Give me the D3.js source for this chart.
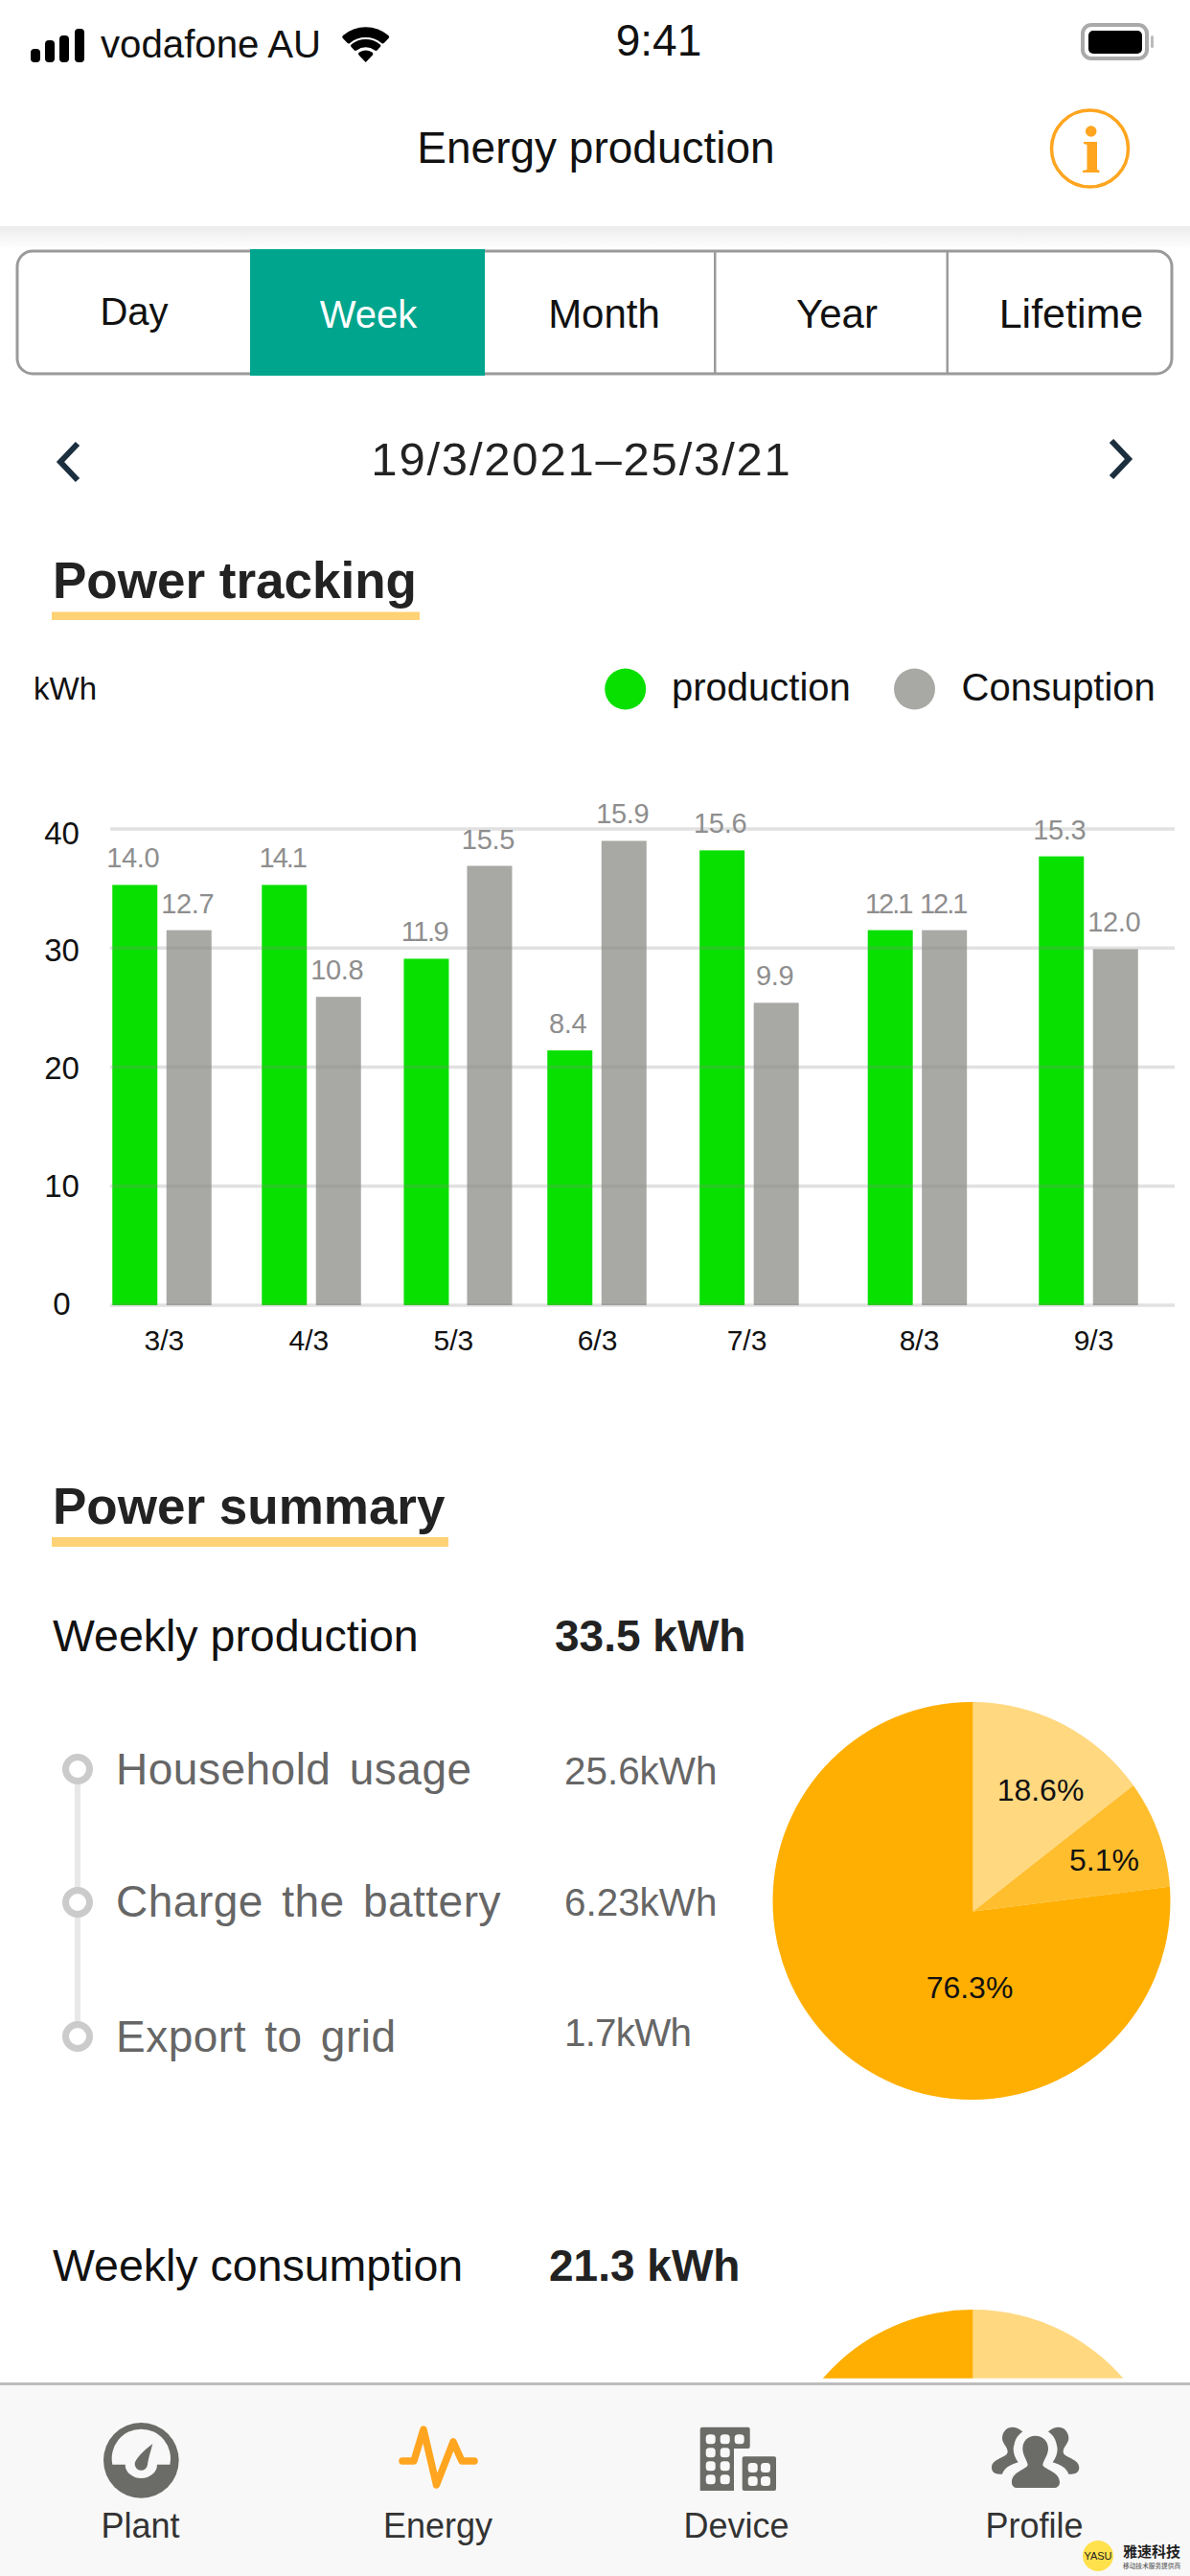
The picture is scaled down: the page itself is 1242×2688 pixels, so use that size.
<!DOCTYPE html>
<html><head><meta charset="utf-8">
<script src="https://cdn.jsdelivr.net/npm/d3@7/dist/d3.min.js"></script>
<style>html,body{margin:0;padding:0;background:#fff}svg{display:block}text{font-family:"Liberation Sans",Arial,sans-serif}</style>
</head><body><div id="c"></div>
<script>
// ---------- data ----------
const days = ["3/3","4/3","5/3","6/3","7/3","8/3","9/3"];
const productionBars = [35.3,35.3,29.1,21.4,38.2,31.5,37.7];
const consumptionBars = [31.5,25.9,36.9,39.0,25.4,31.5,29.9];
const productionLabels = ["14.0","14.1","11.9","8.4","15.6","12.1","15.3"];
const consumptionLabels = ["12.7","10.8","15.5","15.9","9.9","12.1","12.0"];
const yTicks = [0,10,20,30,40];
const seriesNames = ["production","Consuption"];
const tabs = ["Day","Week","Month","Year","Lifetime"];
const sliceNames = ["18.6%","5.1%","76.3%"];
const sliceShares = [14.4,8.6,77.0];
const consumptionShares = [30,70];
const summaryNames = ["Household usage","Charge the battery","Export to grid"];
const summaryValues = ["25.6kWh","6.23kWh","1.7kWh"];
const navNames = ["Plant","Energy","Device","Profile"];

// ---------- layout (irregular day spacing seen in the picture) ----------
const groupSlots = [0,0.968,1.917,2.817,3.803,4.892,6];
const tickSlots = [0.012,0.949,1.886,2.817,3.785,4.902,6.031];
const gapUnits = [1,1,2,1,1,1,1];
const C = {green:"#08E000",grey:"#A8A9A5",main:"#FFAF02",mid:"#FFBE2E",light:"#FFD880",teal:"#00A58D",under:"#FFD276",orange:"#FFA51F",icon:"#6B6B67",nav:"#F8F8F8"};

const svg = d3.select("#c").append("svg").attr("width",1242).attr("height",2688).attr("viewBox","0 0 1242 2688");
const defs = svg.append("defs");
const T = (s,x,y,size,o={}) => {
  const t = svg.append("text").attr("x",x).attr("y",y).attr("font-size",size)
    .attr("fill",o.fill||"#111").attr("font-weight",o.bold?"bold":"normal").attr("text-anchor",o.anchor||"start")
    .attr("letter-spacing",o.ls||0).attr("word-spacing",o.ws||0).text(s);
  if(o.family) t.style("font-family",o.family);
  return t;
};
const R = (x,y,w,h,fill,o={}) => svg.append("rect").attr("x",x).attr("y",y).attr("width",w).attr("height",h).attr("fill",fill).attr("rx",o.rx||0);

// ---------- status bar ----------
[[32,51],[47,42],[62,37],[78,30]].forEach(b=>R(b[0],b[1],10,65-b[1],"#000",{rx:4}));
T("vodafone AU",105,60,40.2);
const wifi = d3.arc().cornerRadius(2);
[[36.7,26],[24,15.7],[12.3,0]].forEach(a=>svg.append("path").attr("transform","translate(381.7,65)").attr("fill","#000")
  .attr("d",wifi({innerRadius:a[1],outerRadius:a[0],startAngle:-0.76,endAngle:0.76})));
T("9:41",687.5,58,46,{anchor:"middle"});
R(1130,26,67,35,"#fff",{rx:9}).attr("stroke","#aaa").attr("stroke-width",4);
R(1136,32,56,24,"#000",{rx:5});
R(1201,37,3,13,"#bbb",{rx:1.5});

// ---------- header ----------
T("Energy production",622,170,46,{anchor:"middle"});
svg.append("circle").attr("cx",1137.5).attr("cy",155).attr("r",40).attr("fill","none").attr("stroke",C.orange).attr("stroke-width",3.5);
svg.append("circle").attr("cx",1138.7).attr("cy",137).attr("r",5.8).attr("fill",C.orange);
svg.append("path").attr("fill",C.orange).attr("d","M1131 148 L1145 148 L1145 177 L1147.5 178 L1147.5 180 L1130 180 L1130 178 L1134.5 177 L1134.5 151 L1131 150 Z");
const sh = defs.append("linearGradient").attr("id","sh").attr("x1",0).attr("x2",0).attr("y1",0).attr("y2",1);
sh.append("stop").attr("offset",0).attr("stop-color","#ececec");
sh.append("stop").attr("offset",1).attr("stop-color","#fff");
R(0,236,1242,24,"url(#sh)");

// ---------- tabs ----------
R(18,262,1205,128,"#fff",{rx:16}).attr("stroke","#9a9a9a").attr("stroke-width",3);
[746,988.5].forEach(x=>R(x-1,262,2.5,128,"#9a9a9a"));
R(261,260,245,132,C.teal);
const tabX=[140,384.5,630.5,873.5,1118], tabY=[339,342,342,342,342], tabSize=[40,40,42,42,43];
tabs.forEach((t,i)=>T(t,tabX[i],tabY[i],tabSize[i],{anchor:"middle",fill:i==1?"#fff":"#111"}));

// ---------- date row ----------
T("19/3/2021–25/3/21",607,496,49,{anchor:"middle",ls:1.8,fill:"#222"});
const chev=d3.line();
svg.append("path").attr("d",chev([[81,463],[63,482],[81,501]])).attr("fill","none").attr("stroke","#1B2F3F").attr("stroke-width",6);
svg.append("path").attr("d",chev([[1160,460],[1178,479],[1160,498]])).attr("fill","none").attr("stroke","#1B2F3F").attr("stroke-width",6);

// ---------- section titles ----------
T("Power tracking",55,624,53,{bold:true,fill:"#222"});
R(54,638.5,384,8.5,C.under);
T("Power summary",55,1590,53,{bold:true,fill:"#222"});
R(54,1604,414,10,C.under);

// ---------- legend ----------
T("kWh",35,730,33);
[[652.7,701,C.green],[954.5,1003.5,C.grey]].forEach((l,i)=>{
  svg.append("circle").attr("cx",l[0]).attr("cy",719).attr("r",21.5).attr("fill",l[2]);
  T(seriesNames[i],l[1],731,40);
});

// ---------- bar chart ----------
const x = d3.scaleLinear().domain([0,6]).range([169,1136]);
const y = d3.scaleLinear().domain([0,40]).range([1362,865]);
const barW = 47, gapBase = 9.5, labelLift = 18;
const labelSpacing = s => s.endsWith(".1") ? -2 : s.startsWith("11") ? -1.5 : -0.3;
const chart = svg.append("g");
const rows = days.map((d,i)=>({i,d,p:productionBars[i],c:consumptionBars[i],pl:productionLabels[i],cl:consumptionLabels[i],cx:x(groupSlots[i]),g:gapBase*gapUnits[i]}));
chart.selectAll("rect.p").data(rows).join("rect").attr("class","p")
  .attr("x",r=>r.cx-r.g/2-barW).attr("width",barW).attr("y",r=>y(r.p)).attr("height",r=>y(0)-y(r.p)).attr("fill",C.green);
chart.selectAll("rect.c").data(rows).join("rect").attr("class","c")
  .attr("x",r=>r.cx+r.g/2).attr("width",barW).attr("y",r=>y(r.c)).attr("height",r=>y(0)-y(r.c)).attr("fill",C.grey);
chart.selectAll("line.g").data(yTicks).join("line").attr("class","g")
  .attr("x1",115).attr("x2",1226).attr("y1",d=>y(d)).attr("y2",d=>y(d)).attr("stroke","#888").attr("stroke-opacity",0.25).attr("stroke-width",3.5);
chart.selectAll("text.pl").data(rows).join("text").attr("class","pl").attr("text-anchor","middle")
  .attr("x",r=>r.cx-r.g/2-barW/2-2).attr("y",r=>y(r.p)-labelLift).attr("font-size",29).attr("fill","#8e8e8e").attr("letter-spacing",r=>labelSpacing(r.pl)).text(r=>r.pl);
chart.selectAll("text.cl").data(rows).join("text").attr("class","cl").attr("text-anchor","middle")
  .attr("x",r=>r.cx+r.g/2+barW/2-1.5).attr("y",r=>y(r.c)-labelLift).attr("font-size",29).attr("fill","#8e8e8e").attr("letter-spacing",r=>labelSpacing(r.cl)).text(r=>r.cl);
const ax = svg.append("g").attr("transform","translate(0,1362)")
  .call(d3.axisBottom(x).tickValues(tickSlots).tickSize(0).tickPadding(26).tickFormat((d,i)=>days[i]));
ax.select(".domain").remove();
ax.selectAll("text").attr("font-size",30).attr("fill","#111").attr("font-family",null);
const yLabels = d3.scaleLinear().domain([0,40]).range([1359.5,868.5]);
const ay = svg.append("g").attr("transform","translate(64.5,0)")
  .call(d3.axisLeft(yLabels).tickValues(yTicks).tickSize(0).tickPadding(0));
ay.select(".domain").remove();
ay.selectAll("text").attr("font-size",33).attr("fill","#111").attr("text-anchor","middle").attr("x",0).attr("dy","0.35em").attr("font-family",null);

// ---------- summary ----------
T("Weekly production",55,1723,46.5);
T("33.5 kWh",579,1723,46,{bold:true,fill:"#222"});
const rowY=[1846,1985,2125], nameY=[1861.5,2000,2140.5], valY=[1862,1998.6,2135], valLs=[0,0,-0.8];
R(78,rowY[0],6,rowY[2]-rowY[0],"#e8e8e8");
summaryNames.forEach((n,i)=>{
  svg.append("circle").attr("cx",81).attr("cy",rowY[i]).attr("r",12.5).attr("fill","#fff").attr("stroke","#cbcbcb").attr("stroke-width",7);
  T(n,121,nameY[i],46,{fill:"#666",ws:6,ls:0.5});
  T(summaryValues[i],589,valY[i],40.4,{fill:"#666",ls:valLs[i]});
});

// ---------- pies ----------
defs.append("clipPath").attr("id","pie1").append("circle").attr("cx",1014).attr("cy",1983.5).attr("r",207.5);
const pieGen = d3.pie().sort(null).value(d=>d);
const arcBig = d3.arc().innerRadius(0).outerRadius(280);
const pieColors=[C.light,C.mid,C.main];
svg.append("g").attr("clip-path","url(#pie1)").append("g").attr("transform","translate(1015.5,1994.6)")
  .selectAll("path").data(pieGen(sliceShares)).join("path").attr("d",arcBig).attr("fill",(d,i)=>pieColors[i]);
const lblX=[1086,1152.5,1012], lblY=[1879,1952,2085];
sliceNames.forEach((s,i)=>T(s,lblX[i],lblY[i],32,{anchor:"middle",fill:"#111"}));

T("Weekly consumption",55,2380,46.5);
T("21.3 kWh",573,2380,46,{bold:true,fill:"#222"});
defs.append("clipPath").attr("id","pie2").append("rect").attr("x",0).attr("y",2300).attr("width",1242).attr("height",181.7);
const arc2 = d3.arc().innerRadius(0).outerRadius(207);
svg.append("g").attr("clip-path","url(#pie2)").append("g").attr("transform","translate(1015.5,2617)")
  .selectAll("path").data(pieGen(consumptionShares)).join("path").attr("d",arc2).attr("fill",(d,i)=>i==0?C.light:C.main);

// ---------- nav ----------
R(0,2487,1242,201,C.nav);
R(0,2486,1242,3,"#bdbdbd");
const navX=[146.5,457,768.5,1079.6];
navNames.forEach((n,i)=>T(n,navX[i],2648,36,{anchor:"middle",fill:"#333"}));
// plant gauge (drawn in 3x crop units)
const g1 = svg.append("g").attr("transform","translate(90,2510) scale(0.3333)");
g1.append("circle").attr("cx",172).attr("cy",172).attr("r",118).attr("fill",C.icon);
g1.append("path").attr("fill",C.nav).attr("d","M82 185 A92 92 0 1 1 262 185 L222 185 A50 43 0 0 1 122 185 Z");
g1.append("path").attr("fill",C.icon).attr("d","M208 120 C200 150 195 165 192 185 A20 20 0 0 1 152 182 C152 170 180 140 208 120 Z");
// energy pulse
svg.append("path").attr("d",d3.line()([[420,2568],[432,2568],[442,2535],[455.5,2593],[473,2548],[482,2568],[495,2568]]))
  .attr("fill","none").attr("stroke",C.orange).attr("stroke-width",7.5).attr("stroke-linejoin","round").attr("stroke-linecap","round");
// device
svg.append("path").attr("fill",C.icon).attr("d","M733 2532.7 L780.7 2532.7 Q782.7 2532.7 782.7 2535 L782.7 2553 Q782.7 2555 780.7 2555 L766 2555 L766 2599 L730.7 2599 L730.7 2535 Q730.7 2532.7 733 2532.7 Z");
R(774.7,2563.3,35.3,35.7,C.icon,{rx:2});
const cellDots=[[741.7,2545.3],[756.7,2545.3],[771.7,2545.3],[741.7,2559.3],[756.7,2559.3],[741.7,2573.3],[756.7,2573.3],[741.7,2587.3],[756.7,2587.3],[785.7,2575],[799,2575],[785.7,2589],[799,2589]];
cellDots.forEach(d=>R(d[0]-5,d[1]-5,10,10,C.nav,{rx:3.5}));
// profile (drawn in 3x crop units)
const g2 = svg.append("g").attr("transform","translate(1020,2510) scale(0.3333)").attr("fill",C.icon);
g2.append("path").attr("d","M182 95 C205 95 222 112 222 135 C222 155 208 170 205 185 C205 200 258 205 258 240 C258 252 250 258 240 258 L125 258 C115 258 108 252 108 240 C108 205 158 200 158 185 C155 170 142 155 142 135 C142 112 158 95 182 95 Z");
const side="M142 82 C130 72 120 68 110 68 C90 68 78 85 78 103 C78 120 95 130 95 145 C95 165 45 165 45 195 C45 208 55 215 70 215 L78 215 C85 195 105 185 128 178 C115 160 110 140 115 125 C118 105 128 92 142 82 Z";
g2.append("path").attr("d",side);
g2.append("path").attr("d",side).attr("transform","translate(364,0) scale(-1,1)");
// watermark
svg.append("circle").attr("cx",1146).attr("cy",2667).attr("r",16).attr("fill","#FFE14D");
T("YASU",1146,2671,11,{anchor:"middle",fill:"#222"});
T("雅速科技",1172,2668,15,{bold:true,fill:"#222",family:"Noto Sans CJK SC"});
T("移动技术服务提供商",1172,2680,6.7,{fill:"#444",family:"Noto Sans CJK SC"});
</script></body></html>
